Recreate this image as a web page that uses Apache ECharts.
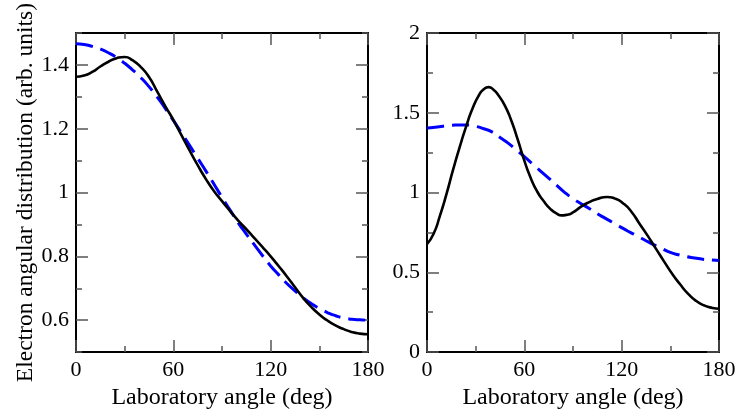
<!DOCTYPE html>
<html>
<head>
<meta charset="utf-8">
<script src="https://cdn.jsdelivr.net/npm/echarts@6/dist/echarts.min.js"></script>
<style>
html,body{margin:0;padding:0;background:#fff;}
#c{width:746px;height:415px;}
</style>
</head>
<body>
<div id="c"></div>
<script>
// ---- data ----
var angles = [0,5,10,15,20,25,30,35,40,45,50,55,60,65,70,75,80,85,90,95,100,105,110,115,120,125,130,135,140,145,150,155,160,165,170,175,180];
var leftSolid = [1.363,1.367,1.378,1.395,1.41,1.421,1.425,1.414,1.393,1.362,1.317,1.271,1.228,1.18,1.132,1.086,1.043,1.005,0.973,0.942,0.912,0.885,0.857,0.829,0.80,0.769,0.737,0.703,0.670,0.642,0.618,0.599,0.584,0.572,0.563,0.558,0.556];
var leftDashed = [1.466,1.464,1.458,1.45,1.438,1.423,1.405,1.384,1.36,1.332,1.30,1.264,1.226,1.187,1.148,1.108,1.068,1.027,0.985,0.945,0.905,0.87,0.836,0.802,0.77,0.742,0.715,0.692,0.67,0.652,0.637,0.624,0.614,0.607,0.603,0.601,0.60];
var rightSolidAngles = [0,4,8,12,16,20,24,28,32,35,38,41,44,48,52,56,60,64,68,72,76,80,83,86,90,95,100,105,111,116,121,126,131,136,141,146,151,156,161,166,171,176,180];
var rightSolid = [0.677,0.74,0.855,0.99,1.14,1.28,1.41,1.525,1.61,1.648,1.661,1.645,1.61,1.545,1.45,1.33,1.20,1.09,1.005,0.945,0.898,0.868,0.857,0.86,0.875,0.912,0.94,0.96,0.972,0.962,0.932,0.88,0.805,0.73,0.65,0.57,0.493,0.425,0.365,0.32,0.292,0.277,0.272];
var rightDashed = [1.405,1.41,1.416,1.421,1.424,1.423,1.415,1.4,1.38,1.345,1.31,1.268,1.225,1.18,1.135,1.09,1.045,1.0,0.962,0.93,0.90,0.868,0.838,0.81,0.78,0.752,0.726,0.698,0.672,0.648,0.625,0.61,0.598,0.59,0.582,0.577,0.574];
var xTicks = [0,60,120,180];
var xMinorTicks = [30,90,150];
var leftYTicks = [0.6,0.8,1,1.2,1.4];
var leftYMinorTicks = [0.5,0.7,0.9,1.1,1.3,1.5];
var rightYTicks = [0,0.5,1,1.5,2];
var rightYMinorTicks = [0.25,0.75,1.25,1.75];
var xTitle = 'Laboratory angle (deg)';
var yTitle = 'Electron angular distribution (arb. units)';

function pairs(xs, ys){ return xs.map(function(x,i){return [x, ys[i]];}); }

var FONT = '"Liberation Serif","Times New Roman",serif';
var TICKC = '#555';

function mkAxis(grid, pos, min, max, majors, minors, showLabels, name, nameGap, isMinor){
  var a = {
    type:'value', gridIndex:grid, position:pos, min:min, max:max,
    axisLine:{show:!isMinor, onZero:false, lineStyle:{color:'#000', width:2}},
    axisTick:{show:true, inside:true, length:isMinor?6:12, customValues: isMinor?minors:majors, lineStyle:{color:TICKC, width:1.5}},
    axisLabel:{show:showLabels && !isMinor, customValues: majors, margin:7, color:'#000', fontFamily:FONT, fontSize:22,
      formatter:function(v){return String(+(+v).toFixed(2));}},
    splitLine:{show:false}
  };
  if(name){
    a.name = name; a.nameLocation='middle'; a.nameGap=nameGap;
    a.nameTextStyle={color:'#000', fontFamily:FONT, fontSize:(pos==='left'?23.5:24)};
  }
  return a;
}

var xAxes = [], yAxes = [];
// grid 0 (axes 0-3)
xAxes.push(mkAxis(0,'bottom',0,180,xTicks,xMinorTicks,true,xTitle,28,false));
xAxes.push(mkAxis(0,'bottom',0,180,xTicks,xMinorTicks,false,null,0,true));
xAxes.push(mkAxis(0,'top',0,180,xTicks,xMinorTicks,false,null,0,false));
xAxes.push(mkAxis(0,'top',0,180,xTicks,xMinorTicks,false,null,0,true));
yAxes.push(mkAxis(0,'left',0.5,1.5,leftYTicks,leftYMinorTicks,true,yTitle,36,false));
yAxes.push(mkAxis(0,'left',0.5,1.5,leftYTicks,leftYMinorTicks,false,null,0,true));
yAxes.push(mkAxis(0,'right',0.5,1.5,leftYTicks,leftYMinorTicks,false,null,0,false));
yAxes.push(mkAxis(0,'right',0.5,1.5,leftYTicks,leftYMinorTicks,false,null,0,true));
// grid 1 (axes 4-7)
xAxes.push(mkAxis(1,'bottom',0,180,xTicks,xMinorTicks,true,xTitle,28,false));
xAxes.push(mkAxis(1,'bottom',0,180,xTicks,xMinorTicks,false,null,0,true));
xAxes.push(mkAxis(1,'top',0,180,xTicks,xMinorTicks,false,null,0,false));
xAxes.push(mkAxis(1,'top',0,180,xTicks,xMinorTicks,false,null,0,true));
yAxes.push(mkAxis(1,'left',0,2,rightYTicks,rightYMinorTicks,true,null,0,false));
yAxes.push(mkAxis(1,'left',0,2,rightYTicks,rightYMinorTicks,false,null,0,true));
yAxes.push(mkAxis(1,'right',0,2,rightYTicks,rightYMinorTicks,false,null,0,false));
yAxes.push(mkAxis(1,'right',0,2,rightYTicks,rightYMinorTicks,false,null,0,true));

var solidStyle = {color:'#000', width:2.6};
var dashStyle = {color:'#0000ff', width:3, type:[17,8]};

var option = {
  animation:false,
  backgroundColor:'#fff',
  grid:[
    {left:76, top:33, width:292, height:323},
    {left:427, top:33, width:292, height:323}
  ],
  xAxis:xAxes,
  yAxis:yAxes,
  series:[
    {type:'line', xAxisIndex:0, yAxisIndex:0, data:pairs(angles,leftDashed), smooth:0.6, showSymbol:false, lineStyle:dashStyle, z:2},
    {type:'line', xAxisIndex:0, yAxisIndex:0, data:pairs(angles,leftSolid), smooth:0.6, showSymbol:false, lineStyle:solidStyle, z:3},
    {type:'line', xAxisIndex:4, yAxisIndex:4, data:pairs(angles,rightDashed), smooth:0.6, showSymbol:false, lineStyle:dashStyle, z:2},
    {type:'line', xAxisIndex:4, yAxisIndex:4, data:pairs(rightSolidAngles,rightSolid), smooth:0.6, showSymbol:false, lineStyle:solidStyle, z:3}
  ]
};
var chart = echarts.init(document.getElementById('c'), null, {renderer:'canvas'});
chart.setOption(option);
</script>
</body>
</html>
